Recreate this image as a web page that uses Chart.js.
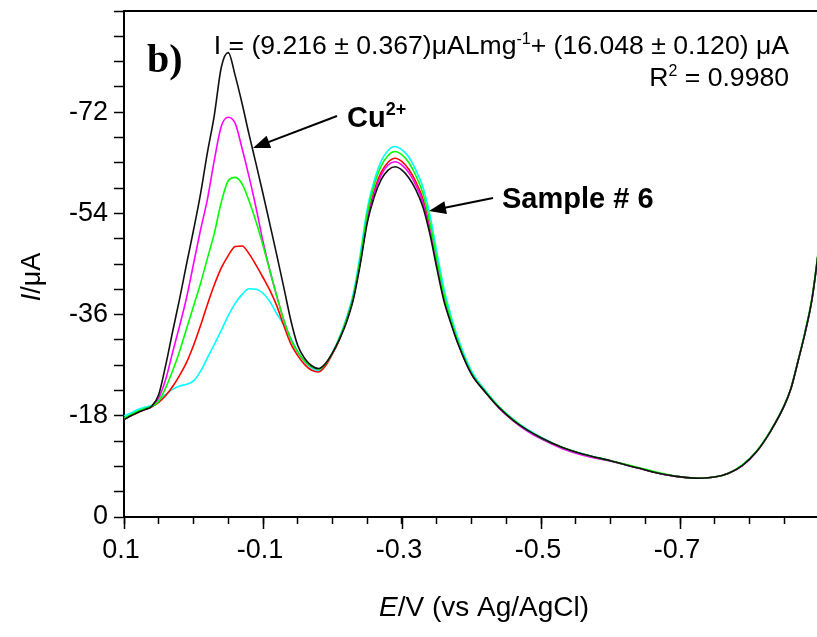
<!DOCTYPE html>
<html>
<head>
<meta charset="utf-8">
<script src="https://cdn.jsdelivr.net/npm/chart.js@4.4.1/dist/chart.umd.min.js"></script>
<style>
  html, body { margin: 0; padding: 0; background: #fff; overflow: hidden; }
  #wrap { position: relative; width: 822px; height: 637px; }
</style>
</head>
<body>
<div id="wrap"><canvas id="chart"></canvas></div>
<script>
// Potencial (V vs Ag/AgCl) comum a todas as curvas
const potential = [
    0.10, 0.09, 0.08, 0.07, 0.06, 0.05, 0.04, 0.03, 0.02, 0.01,
    0.00, -0.01, -0.02, -0.03, -0.04, -0.05, -0.06, -0.07, -0.08, -0.09,
    -0.10, -0.11, -0.12, -0.13, -0.14, -0.15, -0.16, -0.17, -0.18, -0.19,
    -0.20, -0.21, -0.22, -0.23, -0.24, -0.25, -0.26, -0.27, -0.28, -0.29,
    -0.30, -0.31, -0.32, -0.33, -0.34, -0.35, -0.36, -0.37, -0.38, -0.40,
    -0.42, -0.44, -0.46, -0.48, -0.50, -0.53, -0.56, -0.60, -0.64, -0.68,
    -0.71, -0.73, -0.75, -0.77, -0.79, -0.81, -0.83, -0.85, -0.86, -0.87,
    -0.88, -0.89, -0.90
];

// Correntes (µA), uma série por adição
const currentBlack = [
    -17.3, -18.0, -18.6, -19.1, -19.7, -21.8, -27.0, -33.0, -38.8, -45.0,
    -51.0, -57.4, -64.8, -71.5, -80.0, -82.6, -78.5, -73.5, -68.0, -62.8,
    -57.5, -52.0, -46.5, -40.8, -35.0, -30.5, -28.2, -26.9, -26.4, -27.3,
    -29.2, -31.6, -34.6, -38.7, -45.0, -52.3, -56.9, -60.0, -61.7, -62.3,
    -61.7, -60.3, -58.2, -55.2, -50.4, -44.3, -38.6, -34.6, -31.0, -25.4,
    -22.2, -19.4, -17.2, -15.5, -14.1, -12.4, -11.2, -10.0, -8.7, -7.5,
    -7.0, -6.9, -7.1, -7.8, -9.2, -11.6, -15.2, -19.8, -23.0, -27.8,
    -32.8, -38.8, -48.0
];
const currentMagenta = [
    -17.5, -18.1, -18.7, -19.2, -19.7, -21.2, -24.5, -29.3, -34.0, -39.0,
    -45.0, -51.0, -56.5, -63.5, -69.5, -71.1, -70.0, -65.5, -60.5, -55.0,
    -49.0, -43.8, -39.2, -35.0, -31.6, -29.3, -27.7, -26.7, -26.3, -27.3,
    -29.2, -31.7, -34.8, -38.9, -45.3, -52.8, -57.6, -60.8, -62.6, -63.2,
    -62.6, -61.2, -59.0, -56.0, -51.0, -44.8, -39.0, -34.8, -31.1, -25.4,
    -22.2, -19.3, -17.1, -15.3, -13.9, -12.2, -11.0, -9.9, -8.7, -7.5,
    -7.0, -6.9, -7.1, -7.8, -9.2, -11.6, -15.2, -19.8, -23.0, -27.8,
    -32.8, -38.8, -48.0
];
const currentGreen = [
    -17.6, -18.2, -18.8, -19.3, -19.7, -20.6, -23.0, -26.0, -29.5, -33.5,
    -37.5, -41.5, -46.0, -50.5, -56.0, -59.8, -60.4, -59.2, -56.2, -52.5,
    -48.3, -43.8, -39.2, -35.0, -31.6, -29.3, -27.7, -26.7, -26.3, -27.2,
    -29.2, -31.8, -35.0, -39.2, -46.0, -54.0, -59.0, -62.4, -64.3, -65.0,
    -64.4, -63.0, -60.7, -57.6, -52.5, -46.0, -39.8, -35.2, -31.4, -25.6,
    -22.3, -19.5, -17.3, -15.5, -14.1, -12.4, -11.2, -10.0, -8.8, -7.6,
    -7.0, -6.9, -7.1, -7.8, -9.3, -11.7, -15.3, -19.9, -23.1, -27.9,
    -33.0, -39.1, -48.3
];
const currentRed = [
    -17.4, -18.0, -18.6, -19.1, -19.6, -20.4, -21.6, -23.2, -25.2, -27.5,
    -30.5, -34.0, -37.8, -41.3, -44.3, -46.5, -48.1, -48.2, -46.8, -44.8,
    -42.6, -40.3, -37.5, -34.0, -30.8, -28.7, -27.1, -26.1, -25.8, -26.9,
    -29.0, -31.6, -35.0, -39.2, -45.6, -53.2, -58.0, -61.3, -63.1, -63.8,
    -63.2, -61.8, -59.6, -56.6, -51.5, -45.2, -39.3, -35.0, -31.2, -25.5,
    -22.2, -19.4, -17.2, -15.4, -14.0, -12.3, -11.1, -10.0, -8.7, -7.5,
    -7.0, -6.9, -7.1, -7.8, -9.2, -11.6, -15.2, -19.8, -23.0, -27.8,
    -32.8, -38.8, -48.0
];
const currentCyan = [
    -18.0, -18.5, -19.1, -19.5, -19.9, -20.8, -21.8, -22.7, -23.3, -23.6,
    -24.2, -25.9, -28.3, -30.7, -33.2, -35.8, -38.0, -39.6, -40.6, -40.5,
    -39.8, -38.3, -36.1, -34.2, -31.8, -29.4, -27.6, -26.5, -26.0, -27.1,
    -29.3, -32.0, -35.4, -39.8, -46.8, -54.8, -59.8, -63.3, -65.2, -65.9,
    -65.3, -64.0, -61.7, -58.7, -53.8, -47.2, -40.8, -36.0, -32.0, -26.0,
    -22.5, -19.6, -17.4, -15.6, -14.2, -12.4, -11.2, -10.0, -8.7, -7.5,
    -7.0, -6.9, -7.1, -7.8, -9.2, -11.6, -15.2, -19.8, -23.0, -27.8,
    -32.8, -38.8, -48.0
];

// Rótulos dos eixos
const xTickValues = [0.1, -0.1, -0.3, -0.5, -0.7];
const xTickLabels = ['0.1', '-0.1', '-0.3', '-0.5', '-0.7'];
const yTickValues = [0, -18, -36, -54, -72];
const yTickLabels = ['0', '-18', '-36', '-54', '-72'];

const seriesColors = ['#111111', '#00ff00', '#ff00ff', '#ff0000', '#00ffff'];
const seriesData = [currentBlack, currentGreen, currentMagenta, currentRed, currentCyan];

function toPoints(values) {
    return values.map((v, i) => ({ x: potential[i], y: v }));
}

function findLabel(values, labels, value) {
    const idx = values.findIndex(v => Math.abs(v - value) < 1e-6);
    return idx >= 0 ? labels[idx] : '';
}

// Desenha textos com partes sobrescritas/itálicas
function drawRuns(ctx, runs, x, y, align) {
    let total = 0;
    runs.forEach(r => { ctx.font = r.font; total += ctx.measureText(r.text).width; });
    let cx = align === 'right' ? x - total : (align === 'center' ? x - total / 2 : x);
    ctx.textAlign = 'left';
    ctx.textBaseline = 'alphabetic';
    runs.forEach(r => {
        ctx.font = r.font;
        ctx.fillText(r.text, cx, y + (r.dy || 0));
        cx += ctx.measureText(r.text).width;
    });
}

function drawArrow(ctx, x1, y1, x2, y2) {
    const ang = Math.atan2(y2 - y1, x2 - x1);
    const len = 17, half = 6.5;
    ctx.beginPath();
    ctx.moveTo(x1, y1);
    ctx.lineTo(x2 - Math.cos(ang) * len * 0.8, y2 - Math.sin(ang) * len * 0.8);
    ctx.lineWidth = 2;
    ctx.stroke();
    ctx.beginPath();
    ctx.moveTo(x2, y2);
    ctx.lineTo(x2 - Math.cos(ang) * len - Math.sin(ang) * half, y2 - Math.sin(ang) * len + Math.cos(ang) * half);
    ctx.lineTo(x2 - Math.cos(ang) * len + Math.sin(ang) * half, y2 - Math.sin(ang) * len - Math.cos(ang) * half);
    ctx.closePath();
    ctx.fill();
}

const annotationPlugin = {
    id: 'annotations',
    afterDraw(chart) {
        const ctx = chart.ctx;
        const area = chart.chartArea;
        const xScale = chart.scales.x;
        ctx.save();
        ctx.strokeStyle = '#000';
        ctx.fillStyle = '#000';

        // moldura superior
        ctx.lineWidth = 2;
        ctx.beginPath();
        ctx.moveTo(area.left - 1, area.top);
        ctx.lineTo(area.right, area.top);
        ctx.stroke();

        // ticks principais mais longos no eixo x
        ctx.lineWidth = 1.5;
        xTickValues.forEach(v => {
            const px = Math.round(xScale.getPixelForValue(v)) + 0.5;
            ctx.beginPath();
            ctx.moveTo(px, area.bottom);
            ctx.lineTo(px, area.bottom + 12);
            ctx.stroke();
        });

        // títulos dos eixos
        drawRuns(ctx, [
            { text: 'E', font: 'italic 28px "Liberation Sans"' },
            { text: '/V (vs Ag/AgCl)', font: '28px "Liberation Sans"' }
        ], 484, 616, 'center');

        ctx.save();
        ctx.translate(40, 277);
        ctx.rotate(-Math.PI / 2);
        drawRuns(ctx, [
            { text: 'I', font: 'italic 27px "Liberation Sans"' },
            { text: '/\u03bcA', font: '27px "Liberation Sans"' }
        ], 0, 0, 'center');
        ctx.restore();

        // rótulo do painel
        drawRuns(ctx, [{ text: 'b)', font: 'bold 40px "Liberation Serif"' }], 147, 72, 'left');

        // equação da curva analítica
        drawRuns(ctx, [
            { text: 'I = (9.216 \u00b1 0.367)\u03bcALmg', font: '26.6px "Liberation Sans"' },
            { text: '-1', font: '16px "Liberation Sans"', dy: -10 },
            { text: '+ (16.048 \u00b1 0.120) \u03bcA', font: '26.6px "Liberation Sans"' }
        ], 789, 54, 'right');
        drawRuns(ctx, [
            { text: 'R', font: '26.6px "Liberation Sans"' },
            { text: '2', font: '16px "Liberation Sans"', dy: -10 },
            { text: ' = 0.9980', font: '26.6px "Liberation Sans"' }
        ], 789, 86, 'right');

        // Cu2+ e seta
        drawRuns(ctx, [
            { text: 'Cu', font: 'bold 29px "Liberation Sans"' },
            { text: '2+', font: 'bold 18px "Liberation Sans"', dy: -12 }
        ], 347, 127, 'left');
        drawArrow(ctx, 337, 116, 253, 148);

        // Sample # 6 e seta
        drawRuns(ctx, [{ text: 'Sample # 6', font: 'bold 29px "Liberation Sans"' }], 502, 208, 'left');
        drawArrow(ctx, 493, 198, 429, 211);

        ctx.restore();
    }
};

const ctx = document.getElementById('chart').getContext('2d');

new Chart(ctx, {
    type: 'line',
    data: {
        datasets: seriesData.map((values, i) => ({
            data: toPoints(values),
            borderColor: seriesColors[i],
            borderWidth: 1.6,
            pointRadius: 0,
            fill: false,
            cubicInterpolationMode: 'monotone'
        }))
    },
    options: {
        responsive: true,
        maintainAspectRatio: false,
        animation: false,
        layout: { padding: { top: 11, right: 3, left: 0, bottom: 0 } },
        plugins: {
            legend: { display: false },
            tooltip: { enabled: false }
        },
        scales: {
            x: {
                type: 'linear',
                reverse: true,
                min: -0.9,
                max: 0.1,
                afterFit: scale => {
                    scale.height = 120;
                    scale.paddingLeft = 0;
                    scale.paddingRight = 0;
                },
                border: { display: true, color: '#000', width: 2 },
                grid: { drawOnChartArea: false, drawTicks: true, tickLength: 7, tickColor: '#000', tickWidth: 1.5 },
                ticks: {
                    stepSize: 0.05,
                    autoSkip: false,
                    maxRotation: 0,
                    padding: 10,
                    labelOffset: -3,
                    color: '#000',
                    font: { family: 'Liberation Sans', size: 27 },
                    callback: value => findLabel(xTickValues, xTickLabels, value)
                }
            },
            y: {
                type: 'linear',
                reverse: true,
                min: -90,
                max: 0,
                afterFit: scale => {
                    scale.width = 124;
                    scale.paddingTop = 0;
                    scale.paddingBottom = 0;
                },
                border: { display: true, color: '#000', width: 2 },
                grid: { drawOnChartArea: false, drawTicks: true, tickLength: 10, tickColor: '#000', tickWidth: 1.5 },
                ticks: {
                    stepSize: 4.5,
                    autoSkip: false,
                    padding: 6,
                    color: '#000',
                    font: { family: 'Liberation Sans', size: 27 },
                    callback: value => findLabel(yTickValues, yTickLabels, value)
                }
            }
        }
    },
    plugins: [annotationPlugin]
});
</script>
</body>
</html>
